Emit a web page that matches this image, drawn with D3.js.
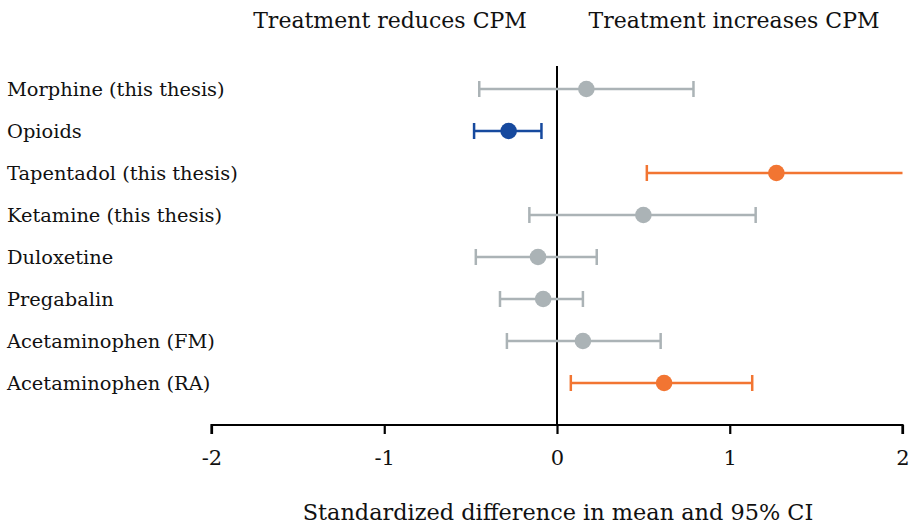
<!DOCTYPE html>
<html lang="en">
<head>
<meta charset="utf-8">
<script src="https://cdn.jsdelivr.net/npm/d3@7"></script>
<style>
  body { margin: 0; background: #fff; }
  text { font-family: "DejaVu Serif", "Liberation Serif", serif; fill: #111; }
</style>
<title>CPM forest plot</title>
</head>
<body>
<script>
var w = 912, h = 526;

// data
var drugs = ["Morphine (this thesis)", "Opioids", "Tapentadol (this thesis)", "Ketamine (this thesis)",
             "Duloxetine", "Pregabalin", "Acetaminophen (FM)", "Acetaminophen (RA)"];
var estimate = [0.17, -0.28, 1.27, 0.50, -0.11, -0.08, 0.15, 0.62];
var lower    = [-0.45, -0.48, 0.52, -0.16, -0.47, -0.33, -0.29, 0.08];
var upper    = [0.79, -0.09, 2.15, 1.15, 0.23, 0.15, 0.60, 1.13];
var group    = ["ns", "down", "up", "ns", "ns", "ns", "ns", "up"];
var xTicks   = [-2, -1, 0, 1, 2];

var colors = { ns: "#abb3b6", down: "#16499e", up: "#f27532" };

var svg = d3.select("body").append("svg")
  .attr("width", w).attr("height", h);

var x = d3.scaleLinear().domain([-2, 2]).range([211.5, 902.5]);
var y = d3.scalePoint().domain(drugs).range([89, 383]);
var axisY = 425;

// zero line
svg.append("line")
  .attr("x1", x(0)).attr("x2", x(0))
  .attr("y1", 66).attr("y2", axisY)
  .attr("stroke", "#000").attr("stroke-width", 2);

// x axis
var xAxis = d3.axisBottom(x).tickValues(xTicks).tickSize(9).tickPadding(16)
  .tickFormat(function(d) { return d; });
var gx = svg.append("g")
  .attr("transform", "translate(0," + axisY + ")")
  .call(xAxis);
gx.select(".domain").attr("stroke", "#000").attr("stroke-width", 2.2)
  .attr("d", "M" + x(-2) + ",9V0H" + x(2) + "V9");
gx.selectAll(".tick line").attr("stroke", "#000").attr("stroke-width", 2.2);
gx.selectAll(".tick text")
  .style("font-family", "'DejaVu Serif', serif")
  .style("font-size", "21px").attr("fill", "#111");

// rows
var rows = svg.selectAll("g.row")
  .data(drugs)
  .enter().append("g")
  .attr("class", "row");

rows.append("line")
  .attr("x1", function(d, i) { return x(lower[i]); })
  .attr("x2", function(d, i) { return x(Math.min(upper[i], 2)); })
  .attr("y1", function(d) { return y(d); })
  .attr("y2", function(d) { return y(d); })
  .attr("stroke", function(d, i) { return colors[group[i]]; })
  .attr("stroke-width", 2.5);

rows.append("line")
  .attr("x1", function(d, i) { return x(lower[i]); })
  .attr("x2", function(d, i) { return x(lower[i]); })
  .attr("y1", function(d) { return y(d) - 8; })
  .attr("y2", function(d) { return y(d) + 8; })
  .attr("stroke", function(d, i) { return colors[group[i]]; })
  .attr("stroke-width", 2.5);

rows.filter(function(d, i) { return upper[i] <= 2; })
  .append("line")
  .attr("x1", function(d) { return x(upper[drugs.indexOf(d)]); })
  .attr("x2", function(d) { return x(upper[drugs.indexOf(d)]); })
  .attr("y1", function(d) { return y(d) - 8; })
  .attr("y2", function(d) { return y(d) + 8; })
  .attr("stroke", function(d) { return colors[group[drugs.indexOf(d)]]; })
  .attr("stroke-width", 2.5);

rows.append("circle")
  .attr("cx", function(d, i) { return x(estimate[i]); })
  .attr("cy", function(d) { return y(d); })
  .attr("r", 8.3)
  .attr("fill", function(d, i) { return colors[group[i]]; });

rows.append("text")
  .attr("x", 7)
  .attr("y", function(d) { return y(d) + 7; })
  .style("font-size", "19.4px")
  .text(function(d) { return d; });

// headers
svg.append("text")
  .attr("x", 390).attr("y", 28)
  .attr("text-anchor", "middle")
  .style("font-size", "22px")
  .text("Treatment reduces CPM");

svg.append("text")
  .attr("x", 734).attr("y", 28)
  .attr("text-anchor", "middle")
  .style("font-size", "22px")
  .text("Treatment increases CPM");

svg.append("text")
  .attr("x", 558).attr("y", 520)
  .attr("text-anchor", "middle")
  .style("font-size", "22.4px")
  .text("Standardized difference in mean and 95% CI");
</script>
</body>
</html>
